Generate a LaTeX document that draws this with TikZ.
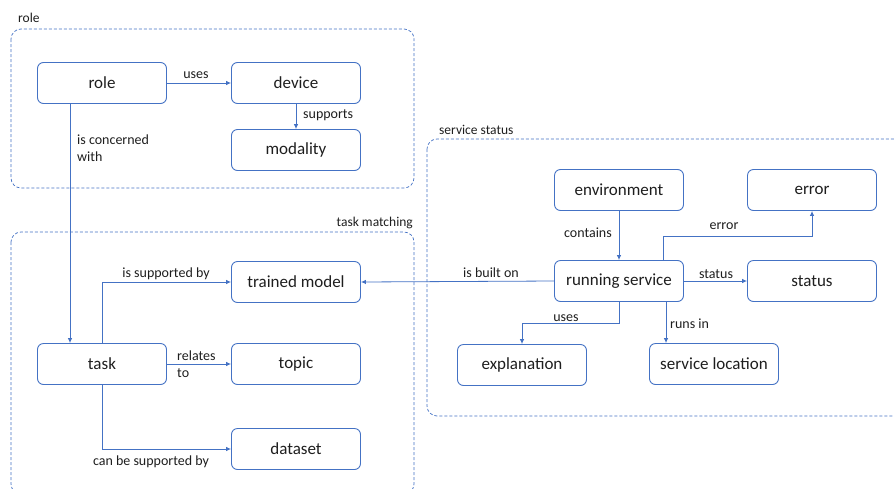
\documentclass[tikz,border=0pt]{standalone}
\usepackage{fontspec}
\setmainfont{Carlito}
\usetikzlibrary{arrows.meta}
\definecolor{edge}{RGB}{68,114,196}
\definecolor{ink}{RGB}{30,30,30}
\tikzset{
  entity/.style={draw=edge, line width=0.9pt, rounded corners=6pt, minimum width=129pt,
    minimum height=41pt, font=\fontsize{17}{19}\selectfont, text=ink, inner sep=0pt},
  group/.style={draw=edge, line width=0.7pt, dash pattern=on 3pt off 2pt, rounded corners=10pt},
  grouplabel/.style={font=\fontsize{13.5}{15}\selectfont, text=ink, inner sep=0pt},
  rel/.style={draw=edge, line width=0.8pt, -{Latex[length=5pt,width=4.5pt]}},
  lbl/.style={font=\fontsize{14}{16.5}\selectfont, text=ink, inner sep=0pt, align=left},
}
\begin{document}
\begin{tikzpicture}[x=1pt, y=-1pt]
\useasboundingbox (0,0) rectangle (894,488);
\clip (0,0) rectangle (894,488);

% groups
\draw[group] (11,29) rectangle (414,188);
\node[grouplabel, anchor=base west] (grole) at (18,22) {role};
\draw[group] (11,232) rectangle (414,494);
\node[grouplabel, anchor=base east] (gtask) at (413,226) {task matching};
\draw[group] (427,139) rectangle (910,416);
\node[grouplabel, anchor=base west] (gserv) at (439,134) {service status};

% entities
\node[entity] (role) at (102,83) {role};
\node[entity] (device) at (296,83) {device};
\node[entity] (modality) at (296,150) {modality};
\node[entity] (model) at (296,282) {trained model};
\node[entity] (task) at (102,364) {task};
\node[entity] (topic) at (296,364) {topic};
\node[entity] (dataset) at (296,449) {dataset};
\node[entity] (env) at (619,190) {environment};
\node[entity] (error) at (812,190) {error};
\node[entity] (run) at (619,281) {running service};
\node[entity] (status) at (812,281) {status};
\node[entity] (expl) at (522,365) {explanation};
\node[entity] (loc) at (714,364) {service location};

% relations: role group
\draw[rel] (role.east) -- (device.west);
\node[lbl, anchor=base] (l1) at (196,78) {uses};
\draw[rel] (device.south) -- (modality.north);
\node[lbl, anchor=base west] (l2) at (303,118) {supports};
\draw[rel] (role.south -| 70,0) -- (task.north -| 70,0);
\node[lbl, anchor=north west] (l3) at (77,135) {is concerned\\with};

% relations: task matching
\draw[rel] (task.north) |- (model.west);
\node[lbl, anchor=base] (l4) at (166,277) {is supported by};
\draw[rel] (task.east) -- (topic.west);
\node[lbl, anchor=north west] (l5) at (177,351) {relates\\to};
\draw[rel] (task.south) |- (dataset.west);
\node[lbl, anchor=base] (l6) at (151,465) {can be supported by};

% relations: service status
\draw[rel] (run.west) -- (model.east);
\node[lbl, anchor=base] (l7) at (491,277) {is built on};
\draw[rel] (env.south) -- (run.north);
\node[lbl, anchor=base east] (l8) at (612,237) {contains};
\coordinate (errup) at (663,236);
\draw[rel] (run.north -| errup) -- (errup) -| (error.south);
\node[lbl, anchor=base] (l9) at (724,229) {error};
\draw[rel] (run.east) -- (status.west);
\node[lbl, anchor=base] (l10) at (716,278) {status};
\coordinate (usesturn) at (619,323);
\draw[rel] (run.south) -- (usesturn) -| (expl.north);
\node[lbl, anchor=base] (l11) at (566,321) {uses};
\coordinate (runsin) at (666,0);
\draw[rel] (run.south -| runsin) -- (loc.north -| runsin);
\node[lbl, anchor=base west] (l12) at (670,328) {runs in};
\end{tikzpicture}
\end{document}
